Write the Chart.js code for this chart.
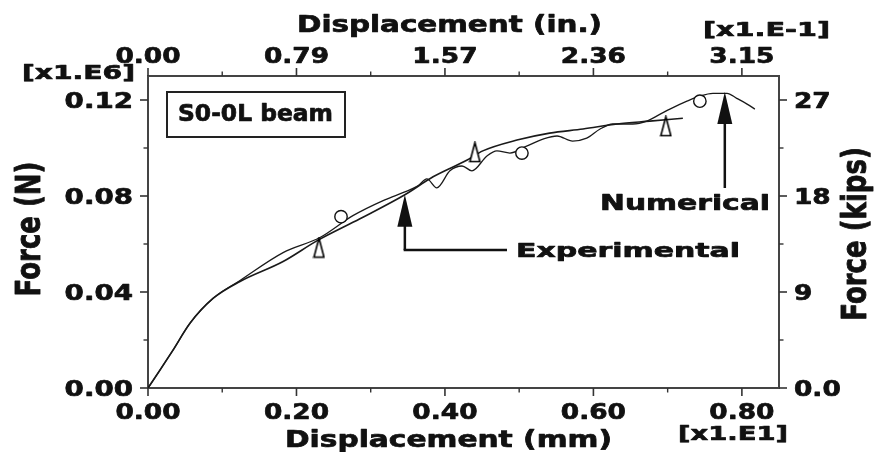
<!DOCTYPE html>
<html>
<head>
<meta charset="utf-8">
<script src="https://cdn.jsdelivr.net/npm/chart.js@4"></script>
<style>
    body { margin: 0; background: #fff; }
    #wrap { width: 877px; height: 452px; position: relative; }
</style>
</head>
<body>
<div id="wrap"><canvas id="chart"></canvas></div>
<script>
// Curve data, displacement in mm x10, force in N x1e6
const numX = [0, 0.0162, 0.0337, 0.0566, 0.0875, 0.124, 0.182, 0.2317, 0.276, 0.319, 0.346, 0.3636, 0.3757, 0.389, 0.4067, 0.423, 0.4364, 0.4566, 0.470, 0.4875, 0.510, 0.532, 0.551, 0.572, 0.591, 0.609, 0.626, 0.653, 0.672, 0.690, 0.703, 0.726, 0.743, 0.761, 0.780, 0.793, 0.807, 0.8175];
const numY = [0, 0.0075, 0.0158, 0.0270, 0.0373, 0.0448, 0.0564, 0.0627, 0.0718, 0.0784, 0.0817, 0.0842, 0.0871, 0.0834, 0.0905, 0.0925, 0.0905, 0.0967, 0.0988, 0.0979, 0.1008, 0.1037, 0.1050, 0.1029, 0.1041, 0.1079, 0.1100, 0.1100, 0.1112, 0.1141, 0.1162, 0.1195, 0.1216, 0.1228, 0.1228, 0.1207, 0.1183, 0.1162];

const expX = [0, 0.0162, 0.0337, 0.0566, 0.0875, 0.124, 0.182, 0.228, 0.2855, 0.346, 0.384, 0.430, 0.451, 0.497, 0.541, 0.586, 0.632, 0.676, 0.7205];
const expY = [0, 0.0075, 0.0158, 0.0270, 0.0373, 0.0444, 0.0527, 0.0614, 0.0705, 0.0805, 0.0880, 0.0950, 0.0988, 0.1033, 0.1062, 0.1079, 0.1100, 0.1112, 0.1124];

// Symbols along the curves
const numMarkX = [0.260, 0.5037, 0.7434];
const numMarkY = [0.0714, 0.0979, 0.1195];
const expMarkX = [0.2303, 0.4404, 0.6976];
const expMarkY = [0.0585, 0.0983, 0.1091];

// Axis ticks
const xTicks = [0, 0.2, 0.4, 0.6, 0.8];
const xTickLabels = ['0.00', '0.20', '0.40', '0.60', '0.80'];
const xMinor = [0.1, 0.3, 0.5, 0.7];
const inTicks = [0, 0.7874, 1.5748, 2.3622, 3.1496];
const inTickLabels = ['0.00', '0.79', '1.57', '2.36', '3.15'];
const inMinor = [0.3937, 1.1811, 1.9685, 2.7559];
const yTicks = [0, 0.04, 0.08, 0.12];
const yTickLabels = ['0.00', '0.04', '0.08', '0.12'];
const yMinor = [0.02, 0.06, 0.10];
const kipTicks = [0, 9, 18, 27];
const kipTickLabels = ['0.0', '9', '18', '27'];
const kipMinor = [4.5, 13.5, 22.5];

const xMax = 0.85;
const inMax = xMax * 10 / 25.4 * 10;
const yMax = 0.13;
const kipMax = yMax / 0.12 * 27;

const FONT = '"DejaVu Sans", sans-serif';
const INK = '#111';

function pts(xs, ys) {
    return xs.map((x, i) => ({ x: x, y: ys[i] }));
}

// tall thin triangle symbol
function triangleSymbol() {
    const c = document.createElement('canvas');
    c.width = 13; c.height = 22;
    const g = c.getContext('2d');
    g.beginPath();
    g.moveTo(6.5, 1.5);
    g.lineTo(11.5, 20.5);
    g.lineTo(1.5, 20.5);
    g.closePath();
    g.fillStyle = '#fff';
    g.fill();
    g.strokeStyle = '#000';
    g.lineWidth = 1.6;
    g.stroke();
    return c;
}

// bold text, stretched horizontally like the scanned figure
function drawText(ctx, text, x, y, o) {
    ctx.save();
    ctx.font = 'bold ' + o.size + 'px ' + FONT;
    ctx.fillStyle = INK;
    ctx.strokeStyle = INK;
    ctx.lineWidth = 0.7;
    ctx.lineJoin = 'round';
    ctx.textBaseline = 'alphabetic';
    ctx.textAlign = 'left';
    const w = ctx.measureText(text).width;
    const sx = o.width ? o.width / w : (o.sx || 1);
    let left = x;
    if (o.align === 'center') left = x - w * sx / 2;
    else if (o.align === 'right') left = x - w * sx;
    ctx.translate(left, y);
    ctx.scale(sx, 1);
    ctx.fillText(text, 0, 0);
    ctx.strokeText(text, 0, 0);
    ctx.restore();
}

function drawVText(ctx, text, cx, cy, size, sx) {
    ctx.save();
    ctx.font = 'bold ' + size + 'px ' + FONT;
    ctx.fillStyle = INK;
    ctx.strokeStyle = INK;
    ctx.lineWidth = 0.7;
    ctx.lineJoin = 'round';
    ctx.translate(cx, cy);
    ctx.scale(sx, 1);
    ctx.rotate(-Math.PI / 2);
    ctx.textAlign = 'center';
    ctx.textBaseline = 'middle';
    ctx.fillText(text, 0, 0);
    ctx.strokeText(text, 0, 0);
    ctx.restore();
}

function line(ctx, x1, y1, x2, y2, w) {
    ctx.beginPath();
    ctx.lineWidth = w;
    ctx.moveTo(x1, y1);
    ctx.lineTo(x2, y2);
    ctx.stroke();
}

function arrow(ctx, tx, ty, stemTo, elbowTo) {
    const headLen = 32, headW = 15;
    ctx.save();
    ctx.fillStyle = INK;
    ctx.strokeStyle = INK;
    ctx.beginPath();
    ctx.moveTo(tx, ty);
    ctx.lineTo(tx + headW / 2, ty + headLen);
    ctx.lineTo(tx - headW / 2, ty + headLen);
    ctx.closePath();
    ctx.fill();
    line(ctx, tx, ty + headLen - 1, tx, stemTo, 2.5);
    if (elbowTo) line(ctx, tx - 1.2, stemTo, elbowTo, stemTo, 2.5);
    ctx.restore();
}

const decorations = {
    id: 'decorations',
    afterDraw(chart) {
        const ctx = chart.ctx;
        const { x, x2, y, y2 } = chart.scales;
        const a = chart.chartArea;
        const major = 8, minor = 4.5;

        ctx.save();
        ctx.strokeStyle = '#333';
        ctx.lineCap = 'butt';

        // bottom axis
        xTicks.forEach((v, i) => {
            const px = x.getPixelForValue(v);
            line(ctx, px, a.bottom, px, a.bottom + major, 1.6);
            drawText(ctx, xTickLabels[i], px, a.bottom + 31, { size: 22, sx: 1.2, align: 'center' });
        });
        xMinor.forEach(v => {
            const px = x.getPixelForValue(v);
            line(ctx, px, a.bottom, px, a.bottom + minor, 1.4);
        });

        // top axis (inches x0.1)
        inTicks.forEach((v, i) => {
            const px = x2.getPixelForValue(v);
            line(ctx, px, a.top, px, a.top - major, 1.6);
            drawText(ctx, inTickLabels[i], px, a.top - 13, { size: 22, sx: 1.2, align: 'center' });
        });
        inMinor.forEach(v => {
            const px = x2.getPixelForValue(v);
            line(ctx, px, a.top, px, a.top - minor, 1.4);
        });

        // left axis
        yTicks.forEach((v, i) => {
            const py = y.getPixelForValue(v);
            line(ctx, a.left, py, a.left - major, py, 1.6);
            drawText(ctx, yTickLabels[i], a.left - 15, py + 8, { size: 22, sx: 1.26, align: 'right' });
        });
        yMinor.forEach(v => {
            const py = y.getPixelForValue(v);
            line(ctx, a.left, py, a.left - minor, py, 1.4);
        });

        // right axis (kips)
        kipTicks.forEach((v, i) => {
            const py = y2.getPixelForValue(v);
            line(ctx, a.right, py, a.right + major, py, 1.6);
            drawText(ctx, kipTickLabels[i], a.right + 15, py + 8, { size: 22, sx: 1.2 });
        });
        kipMinor.forEach(v => {
            const py = y2.getPixelForValue(v);
            line(ctx, a.right, py, a.right + minor, py, 1.4);
        });
        ctx.restore();

        // axis titles
        drawText(ctx, 'Displacement (in.)', 297, 32, { size: 23, width: 305 });
        drawText(ctx, 'Displacement (mm)', 285, 447, { size: 23, width: 327 });
        drawVText(ctx, 'Force (N)', 31, 229, 26, 1.3);
        drawVText(ctx, 'Force (kips)', 857, 234, 26, 1.3);

        // exponent notes
        drawText(ctx, '[x1.E6]', 22, 79, { size: 20, width: 113 });
        drawText(ctx, '[x1.E-1]', 703, 36, { size: 20, width: 127 });
        drawText(ctx, '[x1.E1]', 788, 440, { size: 20, width: 110, align: 'right' });

        // specimen box
        ctx.save();
        ctx.strokeStyle = '#222';
        ctx.lineWidth = 2;
        ctx.strokeRect(167, 92, 178, 45);
        ctx.restore();
        drawText(ctx, 'S0-0L beam', 178, 121, { size: 23, width: 155 });

        // curve callouts
        const ex = x.getPixelForValue(0.346), ey = y.getPixelForValue(0.0805);
        arrow(ctx, ex, ey, 250, 507);
        drawText(ctx, 'Experimental', 516, 257, { size: 20, width: 224 });

        const nx = x.getPixelForValue(0.777), ny = y.getPixelForValue(0.1233);
        arrow(ctx, nx, ny, 188, null);
        drawText(ctx, 'Numerical', 600, 210, { size: 21, width: 170 });
    }
};

const tri = triangleSymbol();

new Chart(document.getElementById('chart'), {
    type: 'line',
    data: {
        datasets: [
            {
                label: 'Numerical symbols',
                data: pts(numMarkX, numMarkY),
                showLine: false,
                pointStyle: 'circle',
                pointRadius: 6.2,
                pointBackgroundColor: '#fff',
                pointBorderColor: '#111',
                pointBorderWidth: 1.4
            },
            {
                label: 'Experimental symbols',
                data: pts(expMarkX, expMarkY),
                showLine: false,
                pointStyle: tri,
                pointRadius: 10
            },
            {
                label: 'Numerical',
                data: pts(numX, numY),
                borderColor: '#1a1a1a',
                borderWidth: 1.3,
                pointRadius: 0,
                cubicInterpolationMode: 'monotone',
                fill: false
            },
            {
                label: 'Experimental',
                data: pts(expX, expY),
                borderColor: '#1a1a1a',
                borderWidth: 1.6,
                pointRadius: 0,
                cubicInterpolationMode: 'monotone',
                fill: false
            }
        ]
    },
    options: {
        responsive: true,
        maintainAspectRatio: false,
        animation: false,
        layout: { padding: 0 },
        plugins: {
            legend: { display: false },
            tooltip: { enabled: false }
        },
        scales: {
            x: {
                type: 'linear', position: 'bottom', min: 0, max: xMax,
                ticks: { display: false },
                grid: { display: false },
                border: { display: true, color: '#444', width: 2 },
                afterFit: s => { s.height = 64; }
            },
            x2: {
                type: 'linear', position: 'top', min: 0, max: inMax,
                ticks: { display: false },
                grid: { display: false },
                border: { display: true, color: '#444', width: 2 },
                afterFit: s => { s.height = 76; }
            },
            y: {
                type: 'linear', position: 'left', min: 0, max: yMax,
                ticks: { display: false },
                grid: { display: false },
                border: { display: true, color: '#444', width: 2 },
                afterFit: s => { s.width = 148; }
            },
            y2: {
                type: 'linear', position: 'right', min: 0, max: kipMax,
                ticks: { display: false },
                grid: { display: false },
                border: { display: true, color: '#444', width: 2 },
                afterFit: s => { s.width = 98; }
            }
        }
    },
    plugins: [decorations]
});
</script>
</body>
</html>
